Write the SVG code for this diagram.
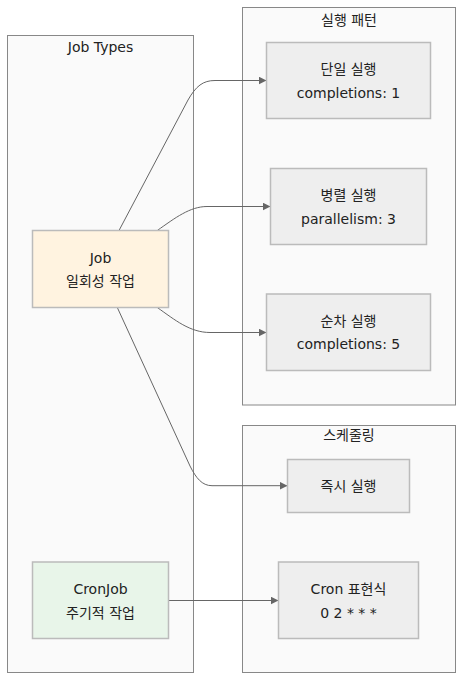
<svg xmlns="http://www.w3.org/2000/svg" width="471" height="692" viewBox="0 0 471 692">
<style>
  .cluster { fill: #fafafa; stroke: #888888; stroke-width: 1; }
  .node { fill: #eeeeee; stroke: #bbbbbb; stroke-width: 1.5; }
  .job { fill: #fff3e0; }
  .cron { fill: #e8f5e9; }
  text { font-family: "DejaVu Sans", "Noto Sans CJK KR", sans-serif; font-size: 14px; fill: #222222; text-anchor: middle; }
  .edge { fill: none; stroke: #666666; stroke-width: 1; marker-end: url(#arrow); }
</style>
<defs>
  <marker id="arrow" viewBox="0 0 10 10" refX="10" refY="5" markerWidth="8" markerHeight="8" markerUnits="userSpaceOnUse" orient="auto">
    <path d="M0,0 L10,5 L0,10 z" fill="#666666"/>
  </marker>
</defs>
<rect width="471" height="692" fill="#ffffff"/>
<g id="cluster-jobtypes">
  <rect class="cluster" x="7.5" y="35.5" width="186" height="637"/>
  <text x="100.5" y="51.5">Job Types</text>
</g>
<g id="cluster-patterns">
  <rect class="cluster" x="242.5" y="7.5" width="213" height="397.5"/>
  <text x="349" y="25">실행 패턴</text>
</g>
<g id="cluster-schedule">
  <rect class="cluster" x="242.5" y="425.5" width="213" height="247"/>
  <text x="349" y="440">스케줄링</text>
</g>
<g id="connectors">
  <path class="edge" d="M119,230.5 L188,100 C196,86 203,80.5 215,80.5 L266.5,80.5"/>
  <path class="edge" d="M157.3,230.5 C175,218 190,206.5 207,206.5 L270.5,206.5"/>
  <path class="edge" d="M157.3,307.5 C175,320 190,332.5 210,332.5 L266.5,332.5"/>
  <path class="edge" d="M117.3,307.5 L190,466 C196,478 202,485.7 212,485.7 L287.5,485.7"/>
  <path class="edge" d="M168.5,600.5 L278.5,600.5"/>
</g>
<g id="node-job">
  <rect class="node job" x="32.5" y="230.5" width="136" height="77"/>
  <text x="100.5" y="262.5">Job</text>
  <text x="100.5" y="286">일회성 작업</text>
</g>
<g id="node-cronjob">
  <rect class="node cron" x="32.5" y="562" width="136" height="76.5"/>
  <text x="100.5" y="594">CronJob</text>
  <text x="100.5" y="617.5">주기적 작업</text>
</g>
<g id="node-single">
  <rect class="node" x="266.5" y="42.5" width="164" height="76"/>
  <text x="348.5" y="74">단일 실행</text>
  <text x="348.5" y="97.5">completions: 1</text>
</g>
<g id="node-parallel">
  <rect class="node" x="270.5" y="168.5" width="156" height="76"/>
  <text x="348.5" y="200">병렬 실행</text>
  <text x="348.5" y="223.5">parallelism: 3</text>
</g>
<g id="node-sequential">
  <rect class="node" x="266.5" y="294" width="164" height="76.5"/>
  <text x="348.5" y="325.5">순차 실행</text>
  <text x="348.5" y="349">completions: 5</text>
</g>
<g id="node-immediate">
  <rect class="node" x="287.5" y="459.5" width="122" height="53"/>
  <text x="348.5" y="491">즉시 실행</text>
</g>
<g id="node-cronexpr">
  <rect class="node" x="278.5" y="562" width="140" height="76.5"/>
  <text x="348.5" y="594">Cron 표현식</text>
  <text x="348.5" y="617.5">0 2 * * *</text>
</g>
</svg>
